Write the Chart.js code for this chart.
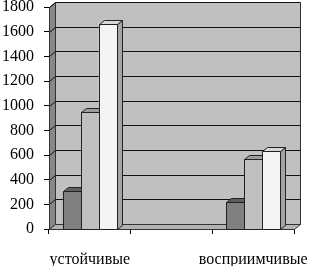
<!DOCTYPE html>
<html>
<head>
<meta charset="utf-8">
<script src="https://cdn.jsdelivr.net/npm/chart.js@4.4.1/dist/chart.umd.min.js"></script>
<style>
  html, body { margin: 0; padding: 0; background: #fff; }
  #wrap { width: 310px; height: 266px; }
</style>
</head>
<body>
<div id="wrap"><canvas id="chart"></canvas></div>
<script>
const categories = ['устойчивые', '', 'восприимчивые'];
const seriesDark = [305, null, 215];
const seriesGray = [950, null, 565];
const seriesWhite = [1665, null, 630];
const yMin = 0;
const yMax = 1800;
const yStep = 200;

// depth of the walls and of the bars (Excel style 3D look)
const WALL_DX = 6;
const WALL_DY = -5;
const BAR_DX = 5;
const BAR_DY = -4;

const faceColors = [
  { front: '#808080', top: '#606060', side: '#505050' },
  { front: '#c0c0c0', top: '#9c9c9c', side: '#8c8c8c' },
  { front: '#f4f4f4', top: '#d6d6d6', side: '#a4a4a4' },
];

function poly(ctx, pts, fill, stroke) {
  ctx.beginPath();
  ctx.moveTo(pts[0][0], pts[0][1]);
  for (let i = 1; i < pts.length; i++) {
    ctx.lineTo(pts[i][0], pts[i][1]);
  }
  ctx.closePath();
  if (fill) {
    ctx.fillStyle = fill;
    ctx.fill();
  }
  if (stroke) {
    ctx.strokeStyle = stroke;
    ctx.stroke();
  }
}

const box3dPlugin = {
  id: 'box3d',
  beforeDatasetsDraw(chart) {
    const ctx = chart.ctx;
    const a = chart.chartArea;
    const yScale = chart.scales.y;
    const L = Math.round(a.left) + 0.5;
    const R = Math.round(a.right) + 0.5;
    const T = Math.round(a.top) + 0.5;
    const B = Math.round(a.bottom) + 0.5;
    ctx.save();
    ctx.lineWidth = 1;
    // back wall
    poly(ctx, [[L + WALL_DX, T + WALL_DY], [R + WALL_DX, T + WALL_DY], [R + WALL_DX, B + WALL_DY], [L + WALL_DX, B + WALL_DY]], '#c0c0c0', '#333');
    // side wall
    poly(ctx, [[L, T], [L + WALL_DX, T + WALL_DY], [L + WALL_DX, B + WALL_DY], [L, B]], '#888888', '#333');
    // floor
    poly(ctx, [[L, B], [L + WALL_DX, B + WALL_DY], [R + WALL_DX, B + WALL_DY], [R, B]], '#b4b4b4', '#333');
    // gridlines on side and back wall
    ctx.strokeStyle = '#111';
    yScale.ticks.forEach((t) => {
      if (t.value === yMin) {
        return;
      }
      const py = Math.round(yScale.getPixelForValue(t.value)) + 0.5;
      ctx.beginPath();
      ctx.moveTo(L, py);
      ctx.lineTo(L + WALL_DX, py + WALL_DY);
      ctx.lineTo(R + WALL_DX, py + WALL_DY);
      ctx.stroke();
    });
    ctx.restore();
  },
  afterDatasetsDraw(chart) {
    const ctx = chart.ctx;
    ctx.save();
    ctx.lineWidth = 1;
    const metas = chart.data.datasets.map((d, i) => chart.getDatasetMeta(i));
    categories.forEach((c, ci) => {
      metas.forEach((meta, di) => {
        const raw = chart.data.datasets[di].data[ci];
        if (raw === null || raw === undefined) {
          return;
        }
        const bar = meta.data[ci];
        const p = bar.getProps(['x', 'y', 'width', 'base'], true);
        const x0 = Math.round(p.x - p.width / 2) + 0.5;
        const x1 = Math.round(p.x + p.width / 2) + 0.5;
        const yt = Math.round(p.y) + 0.5;
        const yb = Math.round(p.base) + 0.5;
        const col = faceColors[di];
        poly(ctx, [[x1, yt], [x1 + BAR_DX, yt + BAR_DY], [x1 + BAR_DX, yb + BAR_DY], [x1, yb]], col.side, '#222');
        poly(ctx, [[x0, yt], [x0 + BAR_DX, yt + BAR_DY], [x1 + BAR_DX, yt + BAR_DY], [x1, yt]], col.top, '#222');
        poly(ctx, [[x0, yt], [x1, yt], [x1, yb], [x0, yb]], col.front, '#222');
      });
    });
    ctx.restore();
  },
};

const tickFont = { family: '"Liberation Serif", "Times New Roman", serif', size: 16 };

new Chart(document.getElementById('chart'), {
  type: 'bar',
  data: {
    labels: categories,
    datasets: [
      { data: seriesDark, backgroundColor: faceColors[0].front, categoryPercentage: 0.66, barPercentage: 1 },
      { data: seriesGray, backgroundColor: faceColors[1].front, categoryPercentage: 0.66, barPercentage: 1 },
      { data: seriesWhite, backgroundColor: faceColors[2].front, categoryPercentage: 0.66, barPercentage: 1 },
    ],
  },
  options: {
    responsive: true,
    maintainAspectRatio: false,
    animation: false,
    layout: { padding: { top: 7, right: 16, left: 0, bottom: 0 } },
    plugins: {
      legend: { display: false },
      tooltip: { enabled: false },
    },
    scales: {
      x: {
        grid: { offset: true, drawOnChartArea: false, tickLength: 5, color: '#000' },
        border: { display: true, color: '#000' },
        ticks: { font: tickFont, color: '#000', padding: 16, maxRotation: 0, autoSkip: false },
        afterFit(scale) {
          scale.height = 37;
          scale.paddingLeft = 0;
          scale.paddingRight = 0;
        },
      },
      y: {
        min: yMin,
        max: yMax,
        grid: { drawOnChartArea: false, tickLength: 5, color: '#000' },
        border: { display: true, color: '#000' },
        ticks: {
          stepSize: yStep,
          font: tickFont,
          color: '#000',
          padding: 10,
          callback: (v) => String(v),
        },
        afterFit(scale) {
          scale.width = 49;
          scale.paddingTop = 0;
          scale.paddingBottom = 0;
        },
      },
    },
  },
  plugins: [box3dPlugin],
});
</script>
</body>
</html>
